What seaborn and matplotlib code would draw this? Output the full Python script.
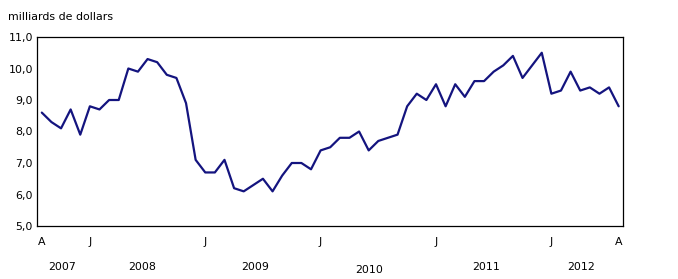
import pandas as pd
import seaborn as sns
import matplotlib.pyplot as plt

# valeurs mensuelles, août 2007 à août 2012 (milliards de dollars)
values = [8.6, 8.3, 8.1, 8.7, 7.9, 8.8, 8.7, 9.0, 9.0, 10.0, 9.9, 10.3, 10.2, 9.8, 9.7,
          8.9, 7.1, 6.7, 6.7, 7.1, 6.2, 6.1, 6.3, 6.5, 6.1, 6.6, 7.0, 7.0, 6.8, 7.4,
          7.5, 7.8, 7.8, 8.0, 7.4, 7.7, 7.8, 7.9, 8.8, 9.2, 9.0, 9.5, 8.8, 9.5, 9.1,
          9.6, 9.6, 9.9, 10.1, 10.4, 9.7, 10.1, 10.5, 9.2, 9.3, 9.9, 9.3, 9.4, 9.2,
          9.4, 8.8]
month_pos = [0, 5, 17, 29, 41, 53, 60]
month_labels = ['A', 'J', 'J', 'J', 'J', 'J', 'A']
year_pos = [2.1, 10.4, 22.2, 34.0, 46.2, 56.1]
year_labels = ['2007', '2008', '2009', '2010', '2011', '2012']
yticks = [5, 6, 7, 8, 9, 10, 11]

df = pd.DataFrame({'mois': range(len(values)), 'valeur': values})

sns.set_style('white')
plt.rcParams['font.family'] = ['DejaVu Sans']
plt.rcParams['text.color'] = 'black'
plt.rcParams['xtick.color'] = 'black'
plt.rcParams['ytick.color'] = 'black'

fs = 7.9
fig = plt.figure(figsize=(6.78, 2.79), dpi=100)
ax = fig.add_axes([37 / 678, 1 - 226 / 279, 586 / 678, 189 / 279])
sns.lineplot(data=df, x='mois', y='valeur', color='#14147f', linewidth=1.6, ax=ax)

ax.set_xlim(-0.5, 60.45)
ax.set_ylim(5, 11)
ax.set_yticks(yticks)
ax.set_yticklabels([f'{v},0' for v in yticks], fontsize=fs)
ax.set_xticks(month_pos)
ax.set_xticklabels(month_labels, fontsize=fs)
ax.set_xticks([i + 0.5 for i in range(60)], minor=True)
ax.tick_params(axis='x', which='major', length=0, pad=8)
ax.tick_params(axis='x', which='minor', direction='in', length=4, width=0.8, color='black')
ax.tick_params(axis='y', length=0, pad=3)
ax.set_xlabel('')
ax.set_ylabel('')
for s in ax.spines.values():
    s.set_color('black')
    s.set_linewidth(0.9)

for x, lab in zip(year_pos, year_labels):
    dy = -0.232 if lab == '2010' else -0.217
    ax.text(x, dy, lab, transform=ax.get_xaxis_transform(), ha='center', va='center', fontsize=fs)

fig.text(8 / 678, 1 - 17 / 279, 'milliards de dollars', ha='left', va='center', fontsize=fs)

fig.savefig('out.png', dpi=100)
